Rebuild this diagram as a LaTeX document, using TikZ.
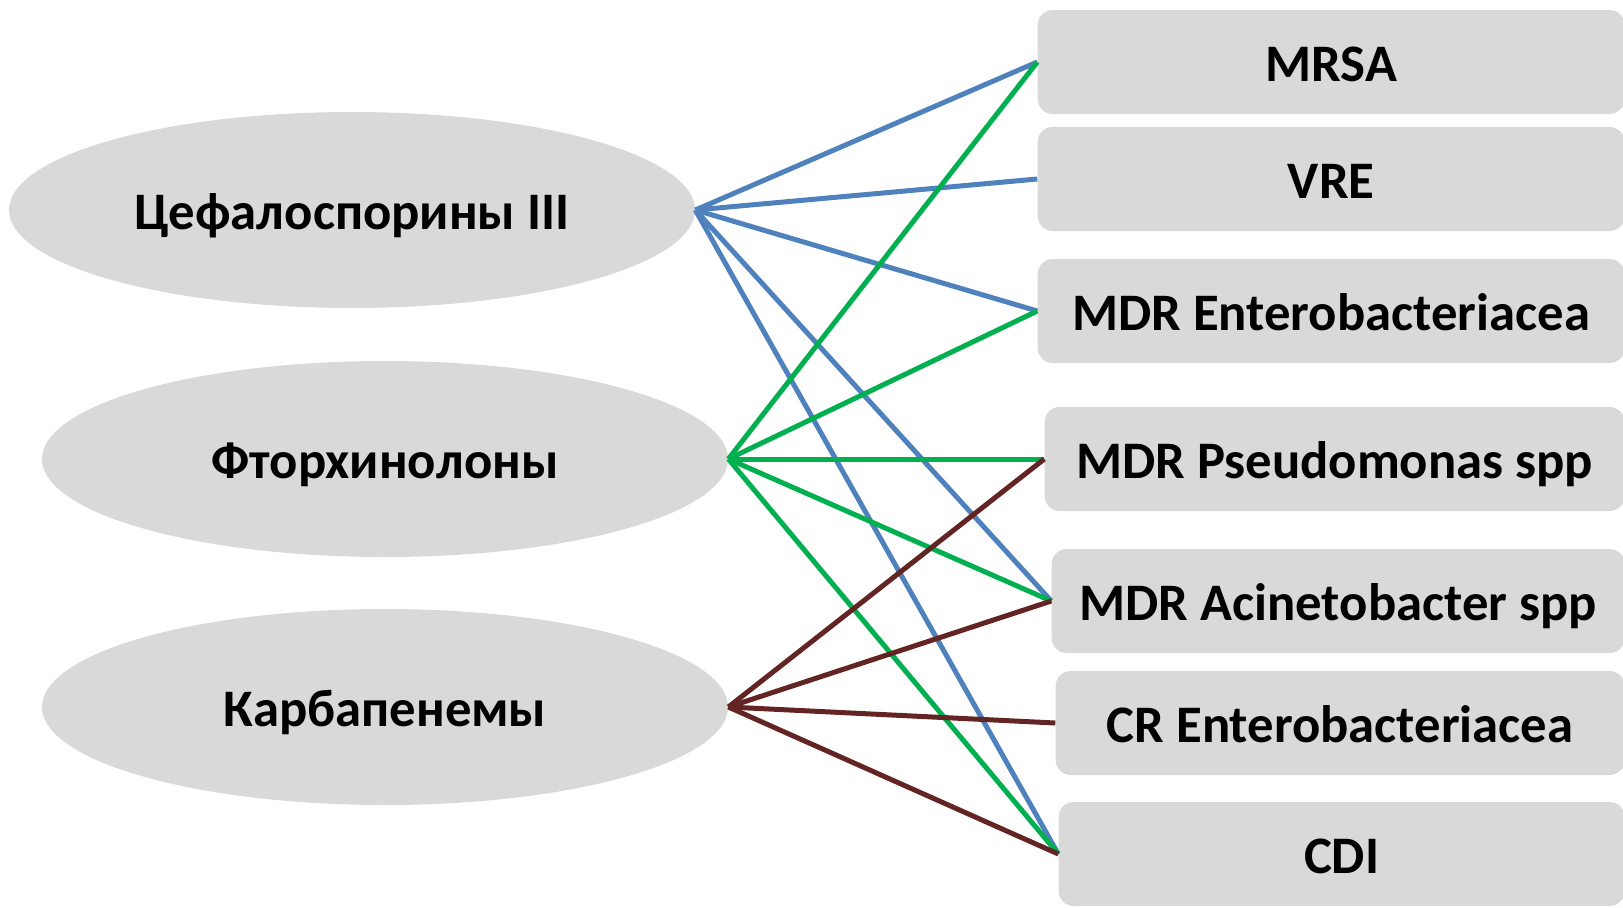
\documentclass[tikz,border=0pt]{standalone}
\usepackage{fontspec}
\setmainfont{Carlito}
\usetikzlibrary{shapes.geometric}
\definecolor{fillgray}{HTML}{D9D9D9}
\definecolor{cefblue}{HTML}{4F81BD}
\definecolor{ftorgreen}{HTML}{00B050}
\definecolor{karbbrown}{HTML}{632523}

\begin{document}
\begin{tikzpicture}[x=0.02cm,y=-0.02cm,
  drug/.style={ellipse,fill=fillgray,minimum width=686*0.02cm,minimum height=196*0.02cm,inner sep=0pt,text height=22pt,text depth=0pt,font=\fontsize{30}{36}\selectfont\bfseries},
  bug/.style={rounded corners=15*0.02cm,fill=fillgray,anchor=east,minimum height=104*0.02cm,inner sep=0pt,text height=22pt,text depth=0pt,font=\fontsize{30}{36}\selectfont\bfseries},
  link/.style={line width=5*0.02cm}]

\useasboundingbox (0,0) rectangle (1623,907);

% antibiotics
\node[drug] (cef) at (352,210) {Цефалоспорины III};
\node[drug] (ftor) at (385,459) {Фторхинолоны};
\node[drug] (karb) at (385,707) {Карбапенемы};

% pathogens
\node[bug,minimum width=587*0.02cm] (mrsa) at (1625,62) {MRSA};
\node[bug,minimum width=587*0.02cm] (vre) at (1625,179) {VRE};
\node[bug,minimum width=587*0.02cm] (mdre) at (1625,311) {MDR Enterobacteriacea};
\node[bug,minimum width=580*0.02cm] (mdrp) at (1625,459) {MDR Pseudomonas spp};
\node[bug,minimum width=573*0.02cm] (mdra) at (1625,601) {MDR Acinetobacter spp};
\node[bug,minimum width=569*0.02cm] (cre) at (1625,723) {CR Enterobacteriacea};
\node[bug,minimum width=566*0.02cm] (cdi) at (1625,854) {CDI};

\foreach \b in {mrsa,vre,mdre,mdra,cdi}
  \draw[link,cefblue] (cef.east) -- (\b.west);
\foreach \b in {mrsa,mdre,mdrp,mdra,cdi}
  \draw[link,ftorgreen] (ftor.east) -- (\b.west);
\foreach \b in {mdrp,mdra,cre,cdi}
  \draw[link,karbbrown] (karb.east) -- (\b.west);

\end{tikzpicture}
\end{document}
